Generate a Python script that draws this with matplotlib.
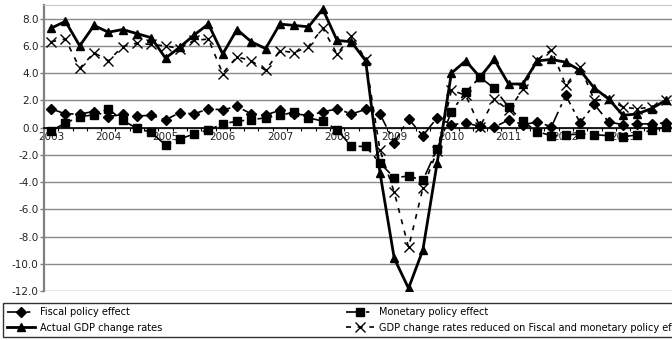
import matplotlib
matplotlib.use('Agg')
import matplotlib.pyplot as plt
import numpy as np

# quarterly data, 2003Q1 - 2013Q4
years = ['2003', '2004', '2005', '2006', '2007', '2008', '2009', '2010', '2011', '2012', '2013']

fiscal = [1.38, 1.0, 1.0, 1.18,
          0.81, 0.96, 0.85, 0.9,
          0.57, 1.09, 1.0, 1.38,
          1.3, 1.55, 1.0, 0.93,
          1.26, 1.0, 0.9, 1.14,
          1.38, 1.0, 1.33, 1.0,
          -1.1, 0.64, -0.6, 0.72,
          0.22, 0.32, 0.1, 0.02,
          0.57, 0.22, 0.4, 0.07,
          2.37, 0.35, 1.7, 0.4,
          0.22, 0.27, 0.27, 0.35]

monetary = [-0.22, 0.32, 0.81, 0.93,
            1.38, 0.52, -0.05, -0.35,
            -1.28, -0.84, -0.47, -0.17,
            0.27, 0.47, 0.57, 0.72,
            0.89, 1.14, 0.72, 0.47,
            -0.15, -1.38, -1.38, -2.6,
            -3.68, -3.56, -3.87, -1.58,
            1.18, 2.6, 3.7, 2.87,
            1.5, 0.45, -0.3, -0.6,
            -0.54, -0.47, -0.52, -0.6,
            -0.67, -0.54, -0.17, 0.02]

gdp = [7.3, 7.8, 6.0, 7.5,
       7.0, 7.2, 6.9, 6.6,
       5.1, 5.9, 6.8, 7.6,
       5.4, 7.2, 6.3, 5.8,
       7.6, 7.5, 7.4, 8.7,
       6.4, 6.3, 4.9, -3.3,
       -9.6, -11.8, -9.0, -2.6,
       4.0, 4.9, 3.7, 5.0,
       3.2, 3.2, 4.9, 5.0,
       4.8, 4.2, 2.9, 2.1,
       0.9, 1.0, 1.4, 2.0]

reduced = [6.3, 6.5, 4.35, 5.5,
           4.9, 5.95, 6.2, 6.1,
           6.0, 5.8, 6.4, 6.5,
           3.97, 5.2, 4.9, 4.2,
           5.65, 5.5, 5.95, 7.3,
           5.4, 6.7, 5.0, -1.65,
           -4.74, -8.8, -4.47, -1.7,
           2.74, 2.37, 0.07, 2.1,
           1.26, 2.8, 4.96, 5.7,
           3.1, 4.47, 2.0, 2.07,
           1.5, 1.38, 1.5, 2.0]

plt.rcParams['font.family'] = ['DejaVu Sans']
plt.rcParams['axes.unicode_minus'] = False

x = np.arange(len(gdp))

fig = plt.figure(figsize=(6.72, 3.4), dpi=100)
ax = fig.add_axes([44 / 672, 49 / 340, 629 / 672, 286 / 340])

# gridlines
for v in range(-12, 10, 2):
    ax.axhline(v, color='#8a8a8a', lw=1.0, zorder=1)

l_fis, = ax.plot(x, fiscal, color='black', lw=1.2, ls=(0, (9, 3, 2, 3)),
                 marker='D', ms=4.8, zorder=3)
l_gdp, = ax.plot(x, gdp, color='black', lw=2.0, ls='-',
                 marker='^', ms=6, zorder=4)
l_mon, = ax.plot(x, monetary, color='black', lw=1.2, ls=(0, (9, 3, 2, 3)),
                 marker='s', ms=5.5, zorder=3)
l_red, = ax.plot(x, reduced, color='black', lw=1.2, ls=(0, (3, 4)),
                 marker='x', ms=6.5, mew=1.0, zorder=3)

ax.set_xlim(-0.5, 43.5)
ax.set_ylim(-12, 9)

ax.set_yticks(np.arange(-12, 9, 2))
ax.set_yticklabels(['%.1f' % v for v in np.arange(-12, 9, 2)], fontsize=7.5, color='#222222')
ax.tick_params(axis='y', length=3, width=1, color='#808080', pad=1)

# x axis crosses at zero
ax.spines['bottom'].set_position(('data', 0))
ax.spines['bottom'].set_color('black')
ax.spines['bottom'].set_linewidth(1.2)
ax.spines['left'].set_color('#808080')
ax.spines['left'].set_linewidth(1.6)
ax.spines['right'].set_visible(False)
ax.spines['top'].set_color('#c8c8c8')

ax.set_xticks(np.arange(0, 44, 4))
ax.set_xticklabels(years, fontsize=7.5, color='#222222')
ax.set_xticks(np.arange(-0.5, 44, 1), minor=True)
ax.tick_params(axis='x', which='major', length=0, pad=3)
ax.tick_params(axis='x', which='minor', length=2.5, width=0.8, color='black', direction='out')

# legend box runs past the right edge, like the original
fig.legend([l_fis, l_gdp, l_mon, l_red],
           ['Fiscal policy effect', 'Actual GDP change rates',
            'Monetary policy effect', 'GDP change rates reduced on Fiscal and monetary policy effect'],
           loc='upper left', bbox_to_anchor=(3 / 672, 1 - 303 / 340),
           ncol=2, fontsize=7, frameon=True, fancybox=False, edgecolor='black',
           handlelength=2.8, handletextpad=0.6, columnspacing=18.9,
           borderpad=0.45, labelspacing=0.55, borderaxespad=0)

fig.savefig('out.png', dpi=100)
